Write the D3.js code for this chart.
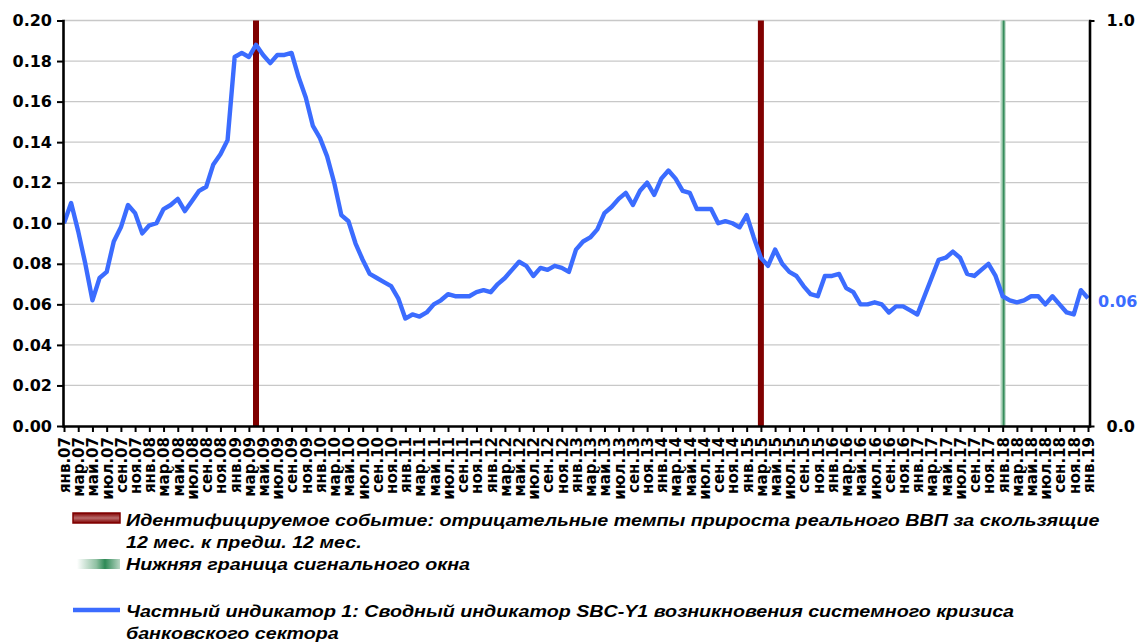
<!DOCTYPE html>
<html>
<head>
<meta charset="utf-8">
<script src="https://cdnjs.cloudflare.com/ajax/libs/d3/7.8.5/d3.min.js"></script>
<style>
  body { margin: 0; background: #fff; }
  svg { display: block; }
  text { font-family: "DejaVu Sans", sans-serif; font-weight: bold; }
</style>
</head>
<body>
<div id="corpo"></div>
<script>
// месяцы янв.07 ... янв.19
var monthNames = ["янв.", "фев.", "мар.", "апр.", "май.", "июн.", "июл.", "авг.", "сен.", "окт.", "ноя.", "дек."];
var firstYear = 2007, lastYear = 2019;

// Частный индикатор 1: SBC-Y1 (левая ось)
var sbcY1 = [
  0.100, 0.110, 0.096, 0.080, 0.062, 0.073, 0.076, 0.091, 0.098, 0.109, 0.105, 0.095,
  0.099, 0.100, 0.107, 0.109, 0.112, 0.106, 0.111, 0.116, 0.118, 0.129, 0.134, 0.141,
  0.182, 0.184, 0.182, 0.188, 0.183, 0.179, 0.183, 0.183, 0.184, 0.172, 0.162, 0.148,
  0.142, 0.133, 0.120, 0.104, 0.101, 0.090, 0.082, 0.075, 0.073, 0.071, 0.069, 0.063,
  0.053, 0.055, 0.054, 0.056, 0.060, 0.062, 0.065, 0.064, 0.064, 0.064, 0.066, 0.067,
  0.066, 0.070, 0.073, 0.077, 0.081, 0.079, 0.074, 0.078, 0.077, 0.079, 0.078, 0.076,
  0.087, 0.091, 0.093, 0.097, 0.105, 0.108, 0.112, 0.115, 0.109, 0.116, 0.120, 0.114,
  0.122, 0.126, 0.122, 0.116, 0.115, 0.107, 0.107, 0.107, 0.100, 0.101, 0.100, 0.098,
  0.104, 0.093, 0.083, 0.079, 0.087, 0.080, 0.076, 0.074, 0.069, 0.065, 0.064, 0.074,
  0.074, 0.075, 0.068, 0.066, 0.060, 0.060, 0.061, 0.060, 0.056, 0.059, 0.059, 0.057,
  0.055, 0.064, 0.073, 0.082, 0.083, 0.086, 0.083, 0.075, 0.074, 0.077, 0.080, 0.074,
  0.064, 0.062, 0.061, 0.062, 0.064, 0.064, 0.060, 0.064, 0.060, 0.056, 0.055, 0.067,
  0.063
];

// события (правая ось, значение 1)
var crisisMonths = ["апр.09", "мар.15"];
var signalMonths = ["янв.18"];

var leftTicks = [0, 0.02, 0.04, 0.06, 0.08, 0.10, 0.12, 0.14, 0.16, 0.18, 0.20];
var rightTicks = [0, 1];

var legendLines = [
  ["Идентифицируемое событие: отрицательные темпы прироста реального ВВП за скользящие", "12 мес. к предш. 12 мес."],
  ["Нижняя граница сигнального окна"],
  ["Частный индикатор 1: Сводный индикатор SBC-Y1 возникновения системного кризиса", "банковского сектора"]
];

var months = [];
for (var yr = firstYear; yr <= lastYear; yr++) {
  monthNames.forEach(function(m, k) {
    if (yr < lastYear || k == 0) months.push(m + String(yr).slice(2));
  });
}
var tickMonths = months.filter(function(d, i) { return i % 2 == 0; });

var width = 1141, height = 643;
var blue = "#3b6cff";

var svg = d3.select("#corpo").append("svg")
  .attr("width", width)
  .attr("height", height);

var defs = svg.append("defs");
var gGreen = defs.append("linearGradient").attr("id", "gradGreen");
gGreen.append("stop").attr("offset", "0%").attr("stop-color", "#ffffff");
gGreen.append("stop").attr("offset", "45%").attr("stop-color", "#8fc0a2");
gGreen.append("stop").attr("offset", "65%").attr("stop-color", "#2f8a57");
gGreen.append("stop").attr("offset", "100%").attr("stop-color", "#b9d6c4");
var gRed = defs.append("linearGradient").attr("id", "gradRed")
  .attr("x1", 0).attr("y1", 0).attr("x2", 0).attr("y2", 1);
gRed.append("stop").attr("offset", "0%").attr("stop-color", "#800000");
gRed.append("stop").attr("offset", "50%").attr("stop-color", "#b96a6a");
gRed.append("stop").attr("offset", "100%").attr("stop-color", "#800000");

var x = d3.scalePoint().domain(months).range([64, 1088]);
var y = d3.scaleLinear().domain([0, 0.2]).range([426, 20.5]);
var y2 = d3.scaleLinear().domain([0, 1]).range([426, 20.5]);

// сетка
svg.append("g").selectAll("line")
  .data(leftTicks.slice(1))
  .enter().append("line")
  .attr("x1", 64).attr("x2", 1088)
  .attr("y1", function(d) { return y(d); })
  .attr("y2", function(d) { return y(d); })
  .style("stroke", "#c8c8c8")
  .style("stroke-width", 1.3);

// столбцы-события
svg.append("g").selectAll("rect")
  .data(crisisMonths)
  .enter().append("rect")
  .attr("x", function(d) { return x(d) - 3; })
  .attr("width", 6)
  .attr("y", y2(1))
  .attr("height", y2(0) - y2(1))
  .style("fill", "#800000");

svg.append("g").selectAll("rect")
  .data(signalMonths)
  .enter().append("rect")
  .attr("x", function(d) { return x(d) - 3; })
  .attr("width", 6)
  .attr("y", y2(1))
  .attr("height", y2(0) - y2(1))
  .style("fill", "url(#gradGreen)");

// линия индикатора
var line = d3.line()
  .x(function(d, i) { return x(months[i]); })
  .y(function(d) { return y(d); });

svg.append("path")
  .datum(sbcY1)
  .attr("d", line)
  .style("fill", "none")
  .style("stroke", blue)
  .style("stroke-width", 4.4)
  .style("stroke-linejoin", "round");

// оси
var axL = svg.append("g").attr("transform", "translate(63,0)")
  .call(d3.axisLeft(y).tickValues(leftTicks).tickFormat(d3.format(".2f")).tickSize(6).tickSizeOuter(0).tickPadding(5));
var axR = svg.append("g").attr("transform", "translate(1089.5,0)")
  .call(d3.axisRight(y2).tickValues(rightTicks).tickFormat(d3.format(".1f")).tickSize(5).tickSizeOuter(0).tickPadding(12));
var axB = svg.append("g").attr("transform", "translate(0,426)")
  .call(d3.axisBottom(x).tickValues(tickMonths).tickSize(6).tickSizeOuter(0));

[axL, axR, axB].forEach(function(ax) {
  ax.select(".domain").style("stroke", "#000").style("stroke-width", 2.6).style("stroke-linecap", "square");
  ax.selectAll(".tick line").style("stroke", "#000").style("stroke-width", 2);
  ax.selectAll("text").style("fill", "#000").style("font-size", "16px");
});
axB.selectAll("text")
  .attr("transform", "rotate(-90)")
  .attr("x", -11)
  .attr("y", 0)
  .attr("dy", "0.36em")
  .style("text-anchor", "end")
  .style("font-size", "15px");

// подпись последнего значения
var last = sbcY1[sbcY1.length - 1];
svg.append("text")
  .attr("x", x(months[months.length - 1]) + 10)
  .attr("y", y(last))
  .attr("dy", "0.55em")
  .text(d3.format(".2f")(last))
  .style("fill", blue)
  .style("font-size", "16px");

// легенда
var leg = svg.append("g");
leg.append("rect").attr("x", 73).attr("y", 513).attr("width", 47).attr("height", 10)
  .style("fill", "url(#gradRed)").style("stroke", "#800000").style("stroke-width", 1.5);
leg.append("rect").attr("x", 77).attr("y", 559).attr("width", 43).attr("height", 10)
  .style("fill", "url(#gradGreen)");
leg.append("line").attr("x1", 73).attr("x2", 120).attr("y1", 610).attr("y2", 610)
  .style("stroke", blue).style("stroke-width", 4.5);

var legY = [526, 570, 617];
legendLines.forEach(function(lines, k) {
  lines.forEach(function(t, j) {
    leg.append("text")
      .attr("transform", "translate(126," + (legY[k] + j * 22) + ") scale(1.23,1)")
      .style("font-family", "'Liberation Sans', Arial, sans-serif")
      .style("font-style", "italic")
      .style("font-size", "16px")
      .text(t);
  });
});
</script>
</body>
</html>
